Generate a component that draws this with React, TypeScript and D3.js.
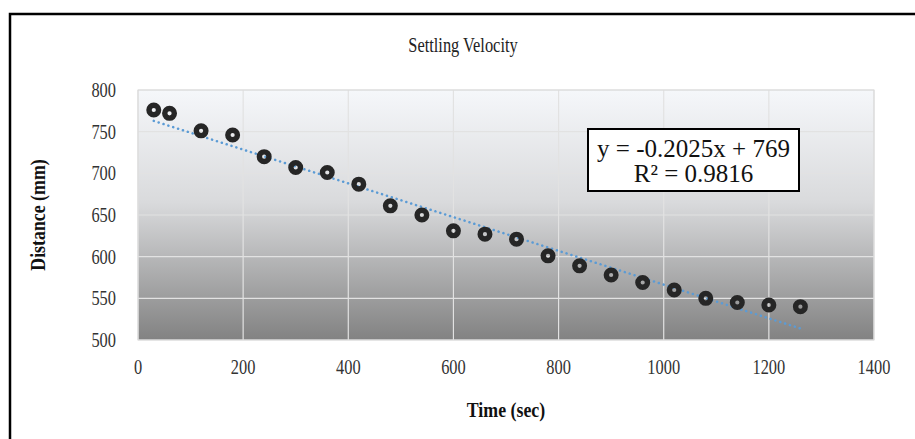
import React, { useRef, useEffect } from 'react';
import * as d3 from 'd3';

// time in seconds
const times = [30, 60, 120, 180, 240, 300, 360, 420, 480, 540, 600, 660, 720, 780, 840, 900, 960, 1020, 1080, 1140, 1200, 1260];
// distance in mm
const distances = [776, 772, 751, 746, 720, 707, 701, 687, 661, 650, 631, 627, 621, 601, 589, 578, 569, 560, 550, 545, 542, 540];

const xTicks = [0, 200, 400, 600, 800, 1000, 1200, 1400];
const yTicks = [500, 550, 600, 650, 700, 750, 800];

const slope = -0.2025;
const intercept = 769;
const equationLines = ['y = -0.2025x + 769', 'R² = 0.9816'];

const W = 915;
const H = 439;

export default function App() {
  const svgRef = useRef<SVGSVGElement>(null);

  useEffect(() => {
    const svg = d3.select(svgRef.current);
    svg.selectAll('*').remove();

    const left = 138, right = 874, top = 90, bottom = 340;

    const x = d3.scaleLinear().domain([0, 1400]).range([left, right]);
    const y = d3.scaleLinear().domain([500, 800]).range([bottom, top]);

    // outer chart frame (runs off the right and bottom edges)
    svg.append('rect')
      .attr('x', 10).attr('y', 14)
      .attr('width', W).attr('height', H)
      .attr('fill', '#fff')
      .attr('stroke', '#000')
      .attr('stroke-width', 2.5);

    const defs = svg.append('defs');
    const grad = defs.append('linearGradient')
      .attr('id', 'bg').attr('x1', 0).attr('y1', 0).attr('x2', 0).attr('y2', 1);
    grad.append('stop').attr('offset', '0%').attr('stop-color', '#f5f7fa');
    grad.append('stop').attr('offset', '45%').attr('stop-color', '#d9dadc');
    grad.append('stop').attr('offset', '100%').attr('stop-color', '#828282');

    svg.append('rect')
      .attr('x', left).attr('y', top)
      .attr('width', right - left).attr('height', bottom - top)
      .attr('fill', 'url(#bg)');

    // grid
    svg.append('g')
      .selectAll('line')
      .data(xTicks)
      .join('line')
      .attr('x1', d => x(d)).attr('x2', d => x(d))
      .attr('y1', top).attr('y2', bottom)
      .attr('stroke', '#e2e2e2').attr('stroke-width', 1.2);

    svg.append('g')
      .selectAll('line')
      .data(yTicks)
      .join('line')
      .attr('x1', left).attr('x2', right)
      .attr('y1', d => y(d)).attr('y2', d => y(d))
      .attr('stroke', '#e2e2e2').attr('stroke-width', 1.2);

    svg.append('rect')
      .attr('x', left).attr('y', top)
      .attr('width', right - left).attr('height', bottom - top)
      .attr('fill', 'none')
      .attr('stroke', '#d9d9d9');

    const font = '"Liberation Serif", "Times New Roman", serif';
    // text in the source image looks squeezed sideways
    const squeeze = (px: number, py: number, sx: number) => `translate(${px},${py}) scale(${sx},1)`;

    // tick labels
    svg.append('g')
      .selectAll('text')
      .data(yTicks)
      .join('text')
      .attr('transform', d => squeeze(116, y(d), 0.82))
      .attr('dy', '0.35em')
      .attr('text-anchor', 'end')
      .attr('font-family', font).attr('font-size', 20)
      .attr('fill', '#333')
      .text(d => d);

    svg.append('g')
      .selectAll('text')
      .data(xTicks)
      .join('text')
      .attr('transform', d => squeeze(x(d), 367, 0.82))
      .attr('dy', '0.35em')
      .attr('text-anchor', 'middle')
      .attr('font-family', font).attr('font-size', 20)
      .attr('fill', '#333')
      .text(d => d);

    // titles
    svg.append('text')
      .attr('transform', squeeze(463, 45, 0.82))
      .attr('dy', '0.35em')
      .attr('text-anchor', 'middle')
      .attr('font-family', font).attr('font-size', 20)
      .attr('fill', '#222')
      .text('Settling Velocity');

    svg.append('text')
      .attr('transform', squeeze(506, 410, 0.85))
      .attr('dy', '0.35em')
      .attr('text-anchor', 'middle')
      .attr('font-family', font).attr('font-size', 21).attr('font-weight', 'bold')
      .attr('fill', '#111')
      .text('Time (sec)');

    svg.append('text')
      .attr('transform', `translate(38,${(top + bottom) / 2}) rotate(-90) scale(0.85,1)`)
      .attr('dy', '0.35em')
      .attr('text-anchor', 'middle')
      .attr('font-family', font).attr('font-size', 21).attr('font-weight', 'bold')
      .attr('fill', '#111')
      .text('Distance (mm)');

    // linear trendline over the data range
    const xExt = d3.extent(times) as [number, number];
    const trend = d3.line<number>()
      .x(d => x(d))
      .y(d => y(slope * d + intercept));
    svg.append('path')
      .attr('d', trend(xExt))
      .attr('fill', 'none')
      .attr('stroke', '#5b9bd5')
      .attr('stroke-width', 2.5)
      .attr('stroke-linecap', 'round')
      .attr('stroke-dasharray', '0.1 5');

    // markers
    svg.append('g')
      .selectAll('circle')
      .data(times.map((t, i) => ({ t, d: distances[i] })))
      .join('circle')
      .attr('cx', d => x(d.t))
      .attr('cy', d => y(d.d))
      .attr('r', 4.8)
      .attr('fill', 'none')
      .attr('stroke', '#262626')
      .attr('stroke-width', 5.4);

    // equation box
    const bx = 588, by = 129, bw = 211, bh = 62;
    svg.append('rect')
      .attr('x', bx).attr('y', by).attr('width', bw).attr('height', bh)
      .attr('fill', '#fff').attr('stroke', '#000').attr('stroke-width', 2);
    svg.append('g')
      .selectAll('text')
      .data(equationLines)
      .join('text')
      .attr('x', bx + bw / 2)
      .attr('y', (d, i) => 148 + i * 25)
      .attr('dy', '0.35em')
      .attr('text-anchor', 'middle')
      .attr('font-family', font).attr('font-size', 25)
      .attr('fill', '#111')
      .text(d => d);
  }, []);

  return (
    <svg
      ref={svgRef}
      width={W}
      height={H}
      style={{ position: 'absolute', left: 0, top: 0, background: '#fff' }}
    />
  );
}
